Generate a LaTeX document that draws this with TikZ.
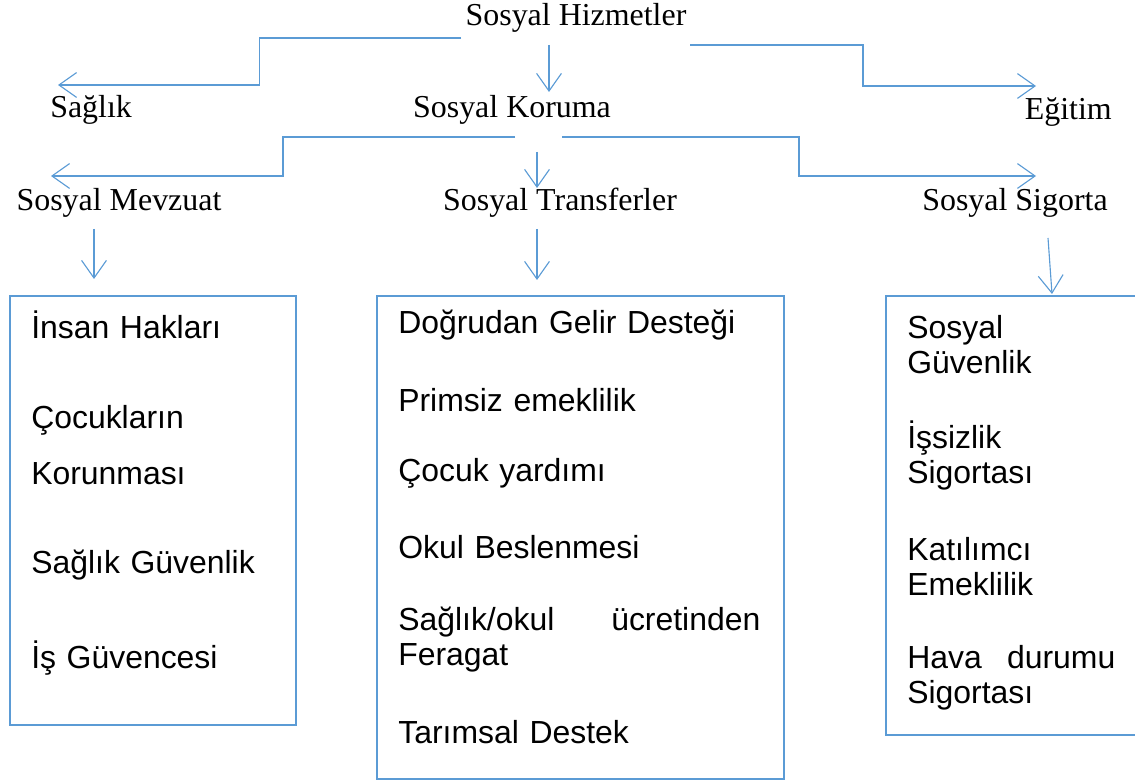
\documentclass[tikz,border=0pt]{standalone}
\usepackage{fontspec}
\setmainfont{Liberation Serif}
\setsansfont{Liberation Sans}
\usepackage{xcolor}
\usetikzlibrary{arrows.meta, calc, positioning}
\definecolor{linkblue}{RGB}{91,155,213}

\begin{document}
\begin{tikzpicture}[x=0.025cm, y=-0.025cm,
		heading/.style={font=\fontsize{22.7}{25}\selectfont, inner sep=0},
		entry/.style={font=\sffamily\fontsize{22.7}{24.9}\selectfont, inner sep=0, anchor=west, align=left},
		panel/.style={draw=linkblue, line width=1.5pt, anchor=north west, inner sep=0},
		link/.style={draw=linkblue, line width=0.8pt, -{Straight Barb[length=4.4mm, width=6.2mm]}},
		elbow/.style={to path={-| ($(\tikztostart)!.5!(\tikztotarget)$) |- (\tikztotarget)}}]
	\useasboundingbox (0,0) rectangle (1135,780);
	
	% headings
	\node[heading] (hizmet) at (576,18) {Sosyal Hizmetler};
	\node[heading, anchor=west] (saglik) at (50,110) {Sağlık};
	\node[heading] (koruma) at (512,110) {Sosyal Koruma};
	\node[heading, anchor=east] (egitim) at (1112,112) {Eğitim};
	\node[heading] (mevzuat) at (119,203) {Sosyal Mevzuat};
	\node[heading] (transfer) at (560,203) {Sosyal Transferler};
	\node[heading] (sigorta) at (1015,203) {Sosyal Sigorta};
	
	% connector ends
	\coordinate (h-left)  at (461,38);
	\coordinate (h-down)  at (549,45);
	\coordinate (h-right) at (690,45);
	\coordinate (k-left)  at (515,137);
	\coordinate (k-down)  at (537,152);
	\coordinate (k-right) at (562,137);
	\coordinate (saglik-in)   at (58,85);
	\coordinate (koruma-in)   at (549,92);
	\coordinate (egitim-in)   at (1036,86);
	\coordinate (mevzuat-in)  at (51,176);
	\coordinate (transfer-in) at (537,188);
	\coordinate (sigorta-in)  at (1036,176);
	\coordinate (m-out) at (94,229);
	\coordinate (t-out) at (537,229);
	\coordinate (s-out) at (1048,238);
	\coordinate (m-in) at (94,279);
	\coordinate (t-in) at (537,280);
	\coordinate (s-in) at (1052,294);
	
	% boxes
	\node[panel, minimum width=7.15cm, minimum height=10.725cm] (mbox) at (9,295) {};
	\node[panel, minimum width=10.175cm, minimum height=12.075cm] (tbox) at (376,295) {};
	\node[panel, minimum width=6.625cm, minimum height=10.975cm] (sbox) at (885,295) {};
	
	\node[entry, text width=6.5cm] (m1) at (31,325) {İnsan Hakları};
	\node[entry, text width=6.5cm] (m2) at (31,445) {Çocukların\\[0.525cm]Korunması};
	\node[entry, text width=6.5cm] (m3) at (31,565) {Sağlık Güvenlik};
	\node[entry, text width=6.5cm] (m4) at (31,658) {İş Güvencesi};
	
	\node[entry, text width=9.05cm] (t1) at (398,325) {Doğrudan Gelir Desteği};
	\node[entry, text width=9.05cm] (t2) at (398,400) {Primsiz emeklilik};
	\node[entry, text width=9.05cm] (t3) at (398,473) {Çocuk yardımı};
	\node[entry, text width=9.05cm] (t4) at (398,547) {Okul Beslenmesi};
	\node[entry, text width=9.05cm] (t5) at (398,640) {Sağlık/okul\hfill ücretinden\\Feragat};
	\node[entry, text width=9.05cm] (t6) at (398,732) {Tarımsal Destek};
	
	\node[entry, text width=5.2cm] (s1) at (907,344.5) {Sosyal\\Güvenlik};
	\node[entry, text width=5.2cm] (s2) at (907,455) {İşsizlik\\Sigortası};
	\node[entry, text width=5.2cm] (s3) at (907,566.5) {Katılımcı\\Emeklilik};
	\node[entry, text width=5.2cm] (s4) at (907,677.5) {Hava\hfill durumu\\Sigortası};
	
	% connectors
	\draw[link] (h-left) to[elbow] (saglik-in);
	\draw[link] (h-down) -- (koruma-in);
	\draw[link] (h-right) to[elbow] (egitim-in);
	\draw[link] (k-left) to[elbow] (mevzuat-in);
	\draw[link] (k-down) -- (transfer-in);
	\draw[link] (k-right) to[elbow] (sigorta-in);
	\draw[link] (m-out) -- (m-in);
	\draw[link] (t-out) -- (t-in);
	\draw[link] (s-out) -- (s-in);
\end{tikzpicture}
\end{document}
